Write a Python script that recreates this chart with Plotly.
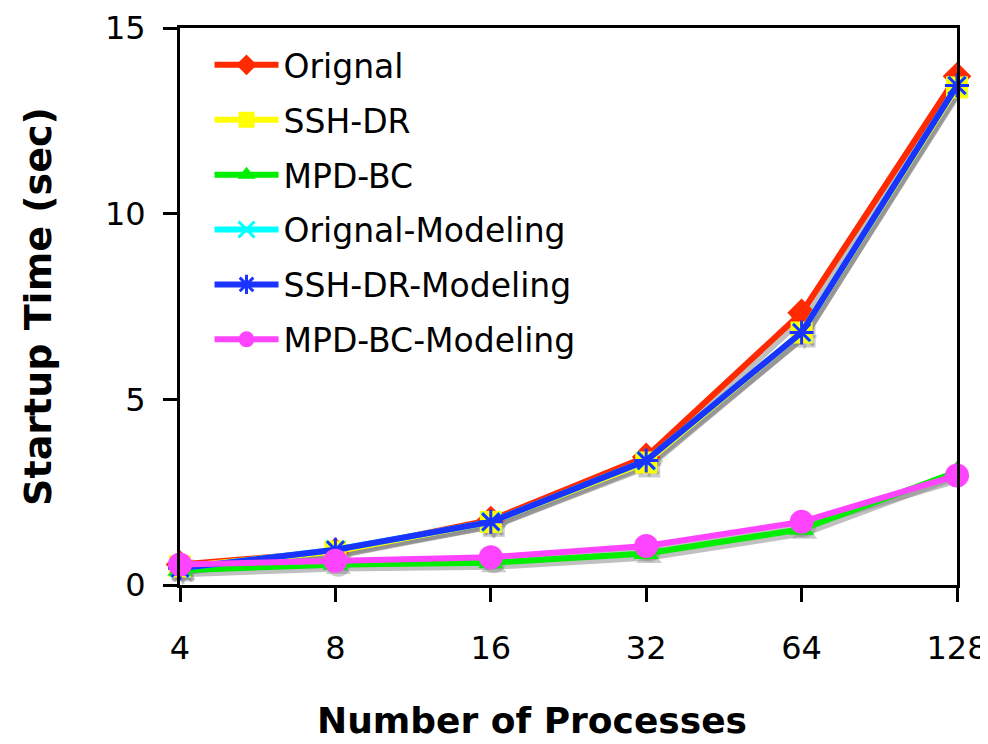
import plotly.graph_objects as go

procs = ["4", "8", "16", "32", "64", "128"]
orignal = [0.55, 0.9, 1.75, 3.45, 7.33, 13.7]
ssh_dr = [0.5, 0.9, 1.7, 3.3, 6.8, 13.4]
mpd_bc = [0.4, 0.55, 0.6, 0.85, 1.5, 3.05]
orignal_model = [0.45, 0.95, 1.7, 3.35, 6.8, 13.45]
ssh_dr_model = [0.45, 0.95, 1.7, 3.35, 6.8, 13.45]
mpd_bc_model = [0.55, 0.65, 0.75, 1.05, 1.7, 2.95]

series = [
    ("Orignal", orignal, "#ff2a00", "diamond", 22),
    ("SSH-DR", ssh_dr, "#ffff00", "square", 22),
    ("MPD-BC", mpd_bc, "#00ee00", "triangle-up", 22),
    ("Orignal-Modeling", orignal_model, "#00ffff", "x-thin", 18),
    ("SSH-DR-Modeling", ssh_dr_model, "#1a33ff", "asterisk", 20),
    ("MPD-BC-Modeling", mpd_bc_model, "#ff44ff", "circle", 24),
]

# page has an 8px body margin; size the figure to the visible area
W, H = 980, 736
L, R, T, B = 172, 31, 20, 159
pw, ph = W - L - R, H - T - B
dx, dy = 3, 4  # shadow offset in px

FONT = "DejaVu Sans, Noto Sans, sans-serif"

fig = go.Figure()
# shadows on base axes (invisible, shifted)
for name, vals, col, sym, sz in series:
    thin = sym in ("x-thin", "asterisk")
    fig.add_trace(go.Scatter(
        x=procs, y=vals, mode="lines+markers", xaxis="x", yaxis="y",
        line=dict(color="rgba(140,140,140,0.55)", width=6),
        marker=dict(symbol=sym, size=sz, color="rgba(140,140,140,0.45)",
                    line=dict(width=3 if thin else 0, color="rgba(140,140,140,0.45)")),
        showlegend=False, hoverinfo="skip", cliponaxis=False))

for i, (name, vals, col, sym, sz) in enumerate(series):
    thin = sym in ("x-thin", "asterisk")
    fig.add_trace(go.Scatter(
        x=procs, y=vals, mode="lines+markers", name=name, xaxis="x2", yaxis="y2",
        line=dict(color=col, width=6),
        marker=dict(symbol=sym, size=sz, color=col,
                    line=dict(width=3 if thin else 0, color=col)),
        legendgroup=str(i), cliponaxis=False))

tickfont = dict(family=FONT, size=32, color="black")
fig.update_layout(
    width=W, height=H,
    margin=dict(l=L, r=R, t=T, b=B),
    plot_bgcolor="white", paper_bgcolor="white",
    font=dict(family=FONT, color="black"),
    xaxis=dict(type="category", range=[0 - dx * 5 / pw, 5 - dx * 5 / pw], visible=False,
               categoryorder="array", categoryarray=procs, automargin=False),
    yaxis=dict(range=[0 + dy * 15 / ph, 15 + dy * 15 / ph], visible=False, automargin=False),
    xaxis2=dict(type="category", overlaying="x", range=[0, 5], categoryorder="array",
                categoryarray=procs, showline=True, linecolor="black", linewidth=3,
                mirror=True, ticks="outside", ticklen=14, tickwidth=3, tickcolor="black",
                tickfont=tickfont, showgrid=False, zeroline=False, anchor="y2",
                automargin=False, ticklabelstandoff=19),
    yaxis2=dict(overlaying="y", range=[0, 15], tickvals=[0, 5, 10, 15],
                showline=True, linecolor="black", linewidth=3, mirror=True,
                ticks="outside", ticklen=14, tickwidth=3, tickcolor="black",
                tickfont=tickfont, showgrid=False, zeroline=False, anchor="x2",
                automargin=False, ticklabelstandoff=11,
                title=dict(text="<b>Startup Time (sec)</b>",
                           font=dict(size=38, family=FONT),
                           standoff=42)),
    annotations=[dict(text="<b>Number of Processes</b>", xref="paper", yref="paper",
                      x=(532 - 180) / 777, y=-(720 - 585) / 557, xanchor="center",
                      yanchor="middle", showarrow=False,
                      font=dict(size=36, family=FONT, color="black"))],
    legend=dict(x=0.038, y=0.984, xanchor="left", yanchor="top",
                bgcolor="rgba(0,0,0,0)", font=dict(size=33, color="black", family=FONT),
                tracegroupgap=9, itemwidth=64),
    showlegend=True,
)

fig.write_html("out.html")
